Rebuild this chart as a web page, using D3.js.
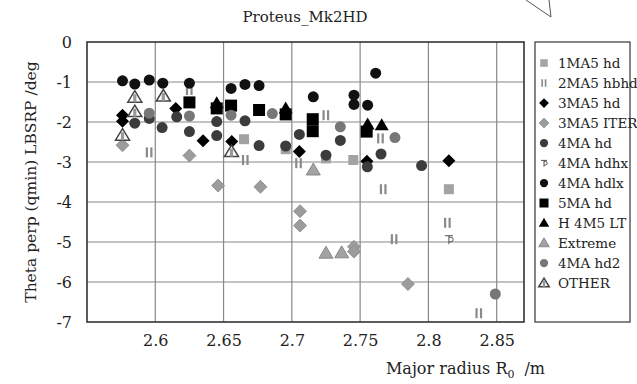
<!DOCTYPE html>
<html>
<head>
<meta charset="utf-8">
<script src="https://cdn.jsdelivr.net/npm/d3@7"></script>
<style>
  body { margin: 0; background: #fff; }
  text { font-family: "DejaVu Serif", serif; fill: #222; }
</style>
</head>
<body>
<script>
let width = 637;
let height = 384;

// data: [major radius R0 (m), theta perp (deg)]
const ma1hd   = [[2.665,-2.43],[2.6955,-2.68],[2.725,-2.91],[2.745,-2.95],[2.815,-3.68]];
const ma2hbhd = [[2.5956,-2.76],[2.625,-1.2],[2.666,-2.95],[2.705,-3.03],[2.725,-1.83],
                 [2.765,-2.41],[2.767,-3.68],[2.814,-4.52],[2.775,-4.93],[2.837,-6.78]];
const ma3hd   = [[2.576,-1.83],[2.576,-1.98],[2.615,-1.66],[2.635,-2.47],[2.656,-2.49],
                 [2.7055,-2.74],[2.755,-2.98],[2.815,-2.97]];
const ma3iter = [[2.576,-2.58],[2.625,-2.84],[2.646,-3.59],[2.677,-3.62],[2.706,-4.23],
                 [2.706,-4.59],[2.7455,-5.12],[2.7455,-5.24],[2.785,-6.05]];
const ma4hd   = [[2.585,-2.03],[2.5956,-1.91],[2.605,-2.14],[2.6157,-1.87],[2.625,-2.24],
                 [2.645,-1.99],[2.645,-2.34],[2.6657,-1.97],[2.676,-2.59],[2.6955,-2.6],
                 [2.7055,-2.31],[2.725,-2.83],[2.7355,-2.46],[2.7653,-2.8],[2.7553,-3.12],[2.795,-3.09]];
const ma4hdhx = [[2.815,-4.93]];
const ma4hdlx = [[2.576,-0.97],[2.585,-1.05],[2.5956,-0.95],[2.6055,-1.03],[2.625,-1.03],
                 [2.6555,-1.16],[2.6657,-1.06],[2.676,-1.09],[2.7157,-1.37],[2.7455,-1.33],
                 [2.7455,-1.56],[2.7555,-1.58],[2.7614,-0.78]];
const ma5hd   = [[2.625,-1.51],[2.645,-1.66],[2.6555,-1.59],[2.676,-1.7],[2.6955,-1.81],
                 [2.7153,-1.93],[2.7153,-2.23],[2.7548,-2.24]];
const h4m5lt  = [[2.645,-1.53],[2.6955,-1.66],[2.7555,-2.06],[2.7658,-2.08]];
const extreme = [[2.7157,-3.2],[2.725,-5.28],[2.7365,-5.27]];
const ma4hd2  = [[2.5956,-1.78],[2.625,-1.85],[2.6555,-1.83],[2.6857,-1.79],[2.7355,-2.12],
                 [2.7755,-2.39],[2.849,-6.3]];
const other   = [[2.585,-1.38],[2.6059,-1.35],[2.585,-1.74],[2.576,-2.33],[2.6558,-2.74]];

const seriesNames = ["1MA5 hd","2MA5 hbhd","3MA5 hd","3MA5 ITER","4MA hd","4MA hdhx",
                     "4MA hdlx","5MA hd","H 4M5 LT","Extreme","4MA hd2","OTHER"];
const seriesData = [ma1hd, ma2hbhd, ma3hd, ma3iter, ma4hd, ma4hdhx,
                    ma4hdlx, ma5hd, h4m5lt, extreme, ma4hd2, other];
const xTicks = [2.6, 2.65, 2.7, 2.75, 2.8, 2.85];
const yTicks = [0, -1, -2, -3, -4, -5, -6, -7];

let svg = d3.select('body').append('svg')
            .attr('width', width)
            .attr('height', height);

let pLeft = 87, pRight = 524, pTop = 42, pBottom = 322;

let x = d3.scaleLinear().domain([2.55, 2.87]).range([pLeft, pRight]);
let y = d3.scaleLinear().domain([-7, 0]).range([pBottom, pTop]);

// grid
svg.append('g').selectAll('line').data(xTicks).join('line')
   .attr('x1', d => x(d)).attr('x2', d => x(d))
   .attr('y1', pTop).attr('y2', pBottom)
   .attr('stroke', '#888').attr('stroke-width', 1.2);
svg.append('g').selectAll('line').data(yTicks.slice(1, -1)).join('line')
   .attr('x1', pLeft).attr('x2', pRight)
   .attr('y1', d => y(d)).attr('y2', d => y(d))
   .attr('stroke', '#888').attr('stroke-width', 1.2);

// axes (labels only)
let xAxis = svg.append('g').attr('transform', `translate(0,${pBottom})`)
   .call(d3.axisBottom(x).tickValues(xTicks).tickSize(0).tickPadding(13).tickFormat(d => String(d)));
let yAxis = svg.append('g').attr('transform', `translate(${pLeft},0)`)
   .call(d3.axisLeft(y).tickValues(yTicks).tickSize(0).tickPadding(15).tickFormat(d => String(d)));
[xAxis, yAxis].forEach(a => {
  a.select('.domain').remove();
  a.selectAll('text').attr('font-size', 16).attr('font-family', '"DejaVu Serif", serif').attr('fill', '#222');
});

// frame
svg.append('rect').attr('x', pLeft).attr('y', pTop)
   .attr('width', pRight - pLeft).attr('height', pBottom - pTop)
   .attr('fill', 'none').attr('stroke', '#333').attr('stroke-width', 1.6);

// marker drawing
function drawMarker(g, i, s) {
  switch (i) {
    case 0: // 1MA5 hd
      g.append('rect').attr('x', -5*s).attr('y', -5*s).attr('width', 10*s).attr('height', 10*s)
       .attr('fill', '#a3a3a3');
      break;
    case 1: // 2MA5 hbhd
      g.append('rect').attr('x', -3.5*s).attr('y', -5*s).attr('width', 2.2*s).attr('height', 10*s).attr('fill', '#8a8a8a');
      g.append('rect').attr('x', 1*s).attr('y', -5*s).attr('width', 2.2*s).attr('height', 10*s).attr('fill', '#8a8a8a');
      break;
    case 2: // 3MA5 hd
      g.append('path').attr('d', `M0,${-6.5*s}L${6.5*s},0L0,${6.5*s}L${-6.5*s},0Z`).attr('fill', '#000');
      break;
    case 3: // 3MA5 ITER
      g.append('path').attr('d', `M0,${-6.5*s}L${6.5*s},0L0,${6.5*s}L${-6.5*s},0Z`)
       .attr('fill', '#9c9c9c').attr('stroke', '#888').attr('stroke-width', 0.8);
      break;
    case 4: // 4MA hd
      g.append('circle').attr('r', 5.5*s).attr('fill', '#3c3c3c');
      break;
    case 5: // 4MA hdhx
      g.append('path')
       .attr('d', `M${-4*s},${-3.5*s}H${4*s}M0,${-3.5*s}V${5*s}M0,${-2*s}H${2*s}A${2.3*s},${2.3*s} 0 0 1 ${2*s},${2.6*s}H0`)
       .attr('fill', 'none').attr('stroke', '#555').attr('stroke-width', 1);
      break;
    case 6: // 4MA hdlx
      g.append('circle').attr('r', 5.5*s).attr('fill', '#111');
      break;
    case 7: // 5MA hd
      g.append('rect').attr('x', -6*s).attr('y', -6*s).attr('width', 12*s).attr('height', 12*s).attr('fill', '#000');
      break;
    case 8: // H 4M5 LT
      g.append('path').attr('d', `M0,${-7*s}L${7*s},${5*s}L${-7*s},${5*s}Z`).attr('fill', '#000');
      break;
    case 9: // Extreme
      g.append('path').attr('d', `M0,${-7*s}L${7*s},${5*s}L${-7*s},${5*s}Z`)
       .attr('fill', '#a3a3a3').attr('stroke', '#777').attr('stroke-width', 0.8);
      break;
    case 10: // 4MA hd2
      g.append('circle').attr('r', 5.5*s).attr('fill', '#777');
      break;
    case 11: // OTHER
      g.append('path').attr('d', `M0,${-6.5*s}L${7*s},${5*s}L${-7*s},${5*s}Z`)
       .attr('fill', '#fff').attr('stroke', '#444').attr('stroke-width', 1.5);
      g.append('rect').attr('x', -1.6*s).attr('y', -3*s).attr('width', 3.2*s).attr('height', 8*s).attr('fill', '#999');
      break;
  }
}

// points
seriesData.forEach((data, i) => {
  svg.append('g').selectAll('g').data(data).join('g')
     .attr('transform', d => `translate(${x(d[0])},${y(d[1])})`)
     .each(function () { drawMarker(d3.select(this), i, 1); });
});

// legend
let legend = svg.append('g');
legend.append('rect').attr('x', 535).attr('y', 42).attr('width', 95).attr('height', 280)
      .attr('fill', '#fff').attr('stroke', '#444').attr('stroke-width', 1.3);
seriesNames.forEach((name, i) => {
  let g = legend.append('g').attr('transform', `translate(544,${63 + i * 20})`);
  drawMarker(g, i, 0.75);
  g.append('text').attr('x', 14).attr('y', 5).attr('font-size', 13.5).text(name);
});

// title
svg.append('text').attr('x', 305).attr('y', 22).attr('text-anchor', 'middle')
   .attr('font-size', 15).text('Proteus_Mk2HD');

// axis titles
let xt = svg.append('text').attr('x', 545).attr('y', 374).attr('text-anchor', 'end').attr('font-size', 16);
xt.append('tspan').text('Major radius R');
xt.append('tspan').attr('font-size', 11).attr('dy', 4).text('0');
xt.append('tspan').attr('dy', -4).attr('dx', 10).text('/m');

svg.append('text').attr('transform', 'translate(36,182) rotate(-90)')
   .attr('text-anchor', 'middle').attr('font-size', 15.5)
   .text('Theta perp (qmin) LBSRP  /deg');

// callout fragment at top right
svg.append('path').attr('d', 'M526,0L551,17L549,0')
   .attr('fill', 'none').attr('stroke', '#555').attr('stroke-width', 1);
</script>
</body>
</html>
